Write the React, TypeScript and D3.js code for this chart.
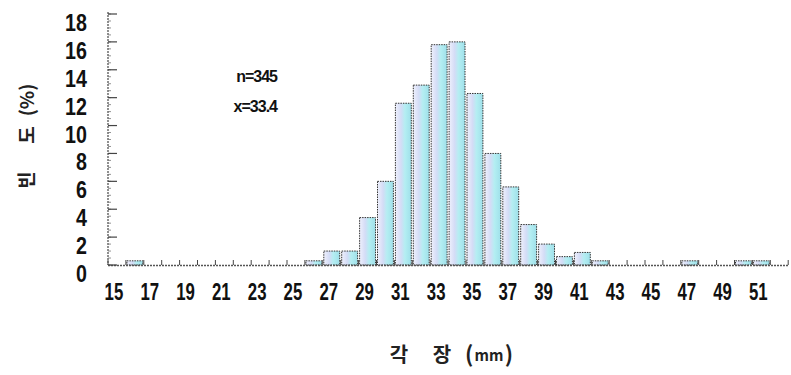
import React from "react";
import * as d3 from "d3";

const bins = d3.range(15, 53); // 15..52
const freq = [0, 0.3, 0, 0, 0, 0, 0, 0, 0, 0, 0, 0.3, 1.0, 1.0, 3.4, 6.0, 11.6, 12.9, 15.8, 16.0, 12.3, 8.0, 5.6, 2.9, 1.5, 0.6, 0.9, 0.3, 0, 0, 0, 0, 0.3, 0, 0, 0.3, 0.3, 0];
const xTickLabels = d3.range(15, 52, 2);
const yTicks = d3.range(0, 19, 2);
const stats = ["n=345", "x=33.4"];

export default function App() {
  const W = 791, H = 375;
  const x0 = 108, x1 = 788;
  const y0 = 265, yTop = 14;
  const step = 17.9;
  const x = d3.scaleBand<number>().domain(bins).range([x0, x0 + step * bins.length]);
  const y = d3.scaleLinear().domain([0, 18]).range([y0, yTop]);
  const font = "'Liberation Sans', Arial, sans-serif";
  const kr = "'Noto Sans CJK KR', sans-serif";
  return (
    <svg width={W} height={H} style={{ position: "absolute", left: 0, top: 0, background: "#fff" }}>
      <defs>
        <linearGradient id="bg" x1="0" x2="1" y1="0" y2="0">
          <stop offset="0" stopColor="#eef0fc" />
          <stop offset="0.35" stopColor="#d4dcf6" />
          <stop offset="0.6" stopColor="#b4eef2" />
          <stop offset="1" stopColor="#9fe0ea" />
        </linearGradient>
      </defs>
      {bins.map((b, i) => freq[i] > 0 ? (
        <rect key={b} x={x(b)! + 1} y={y(freq[i])} width={x.bandwidth() - 2} height={y0 - y(freq[i])}
          fill="url(#bg)" stroke="#333" strokeWidth={1} strokeDasharray="1.5,1" />
      ) : null)}
      {bins.concat([53]).map(b => {
        const px = b === 53 ? x(52)! + x.bandwidth() : x(b)!;
        return <line key={b} x1={px} x2={px} y1={y0} y2={y0 - 5} stroke="#444" strokeWidth={1} />;
      })}
      <line x1={x0} x2={x1} y1={y0 + 0.5} y2={y0 + 0.5} stroke="#555" strokeWidth={1.3} strokeDasharray="2,1" />
      <line x1={x0} x2={x0} y1={yTop - 2} y2={y0} stroke="#555" strokeWidth={1.3} strokeDasharray="2,1" />
      {d3.range(0, 18.01, 0.5).map(v => (
        <line key={v} x1={x0} x2={x0 + 3} y1={y(v)} y2={y(v)} stroke="#777" strokeWidth={0.8} />
      ))}
      {yTicks.map(t => (
        <g key={t}>
          <line x1={x0} x2={x0 + 9} y1={y(t)} y2={y(t)} stroke="#444" strokeWidth={1.2} />
          <text x={87} y={y(t) + 17} textAnchor="end" fontFamily={font} fontSize={24} fontWeight="bold"
            transform={`translate(87,0) scale(0.82,1) translate(-87,0)`} fill="#111">{t}</text>
        </g>
      ))}
      {xTickLabels.map(t => {
        const cx = x(t)! + x.bandwidth() / 2 - 3;
        return (
          <text key={t} x={cx} y={300} textAnchor="middle" fontFamily={font} fontSize={24} fontWeight="bold" fill="#111"
            transform={`translate(${cx},0) scale(0.7,1) translate(${-cx},0)`}>{t}</text>
        );
      })}
      {stats.map((s, i) => (
        <text key={s} x={277} y={82 + i * 30} textAnchor="end" fontFamily={font} fontSize={16} fontWeight="bold" fill="#111"
          letterSpacing={-1}>{s}</text>
      ))}
      <g fontFamily={kr} fontSize={19} fontWeight="bold" fill="#222" textAnchor="middle">
        <text transform="translate(34,180) rotate(-90)">빈</text>
        <text transform="translate(34,135) rotate(-90)">도</text>
        <text transform="translate(34,100) rotate(-90)">(%)</text>
      </g>
      <g fontFamily={kr} fontWeight="bold" fill="#222">
        <text x={399} y={362} fontSize={20} textAnchor="middle">각</text>
        <text x={442} y={362} fontSize={20} textAnchor="middle">장</text>
        <text x={465} y={362} fontSize={22} textAnchor="start">(</text>
        <text x={489} y={361} fontSize={15} textAnchor="middle">mm</text>
        <text x={513} y={362} fontSize={22} textAnchor="end">)</text>
      </g>
    </svg>
  );
}
